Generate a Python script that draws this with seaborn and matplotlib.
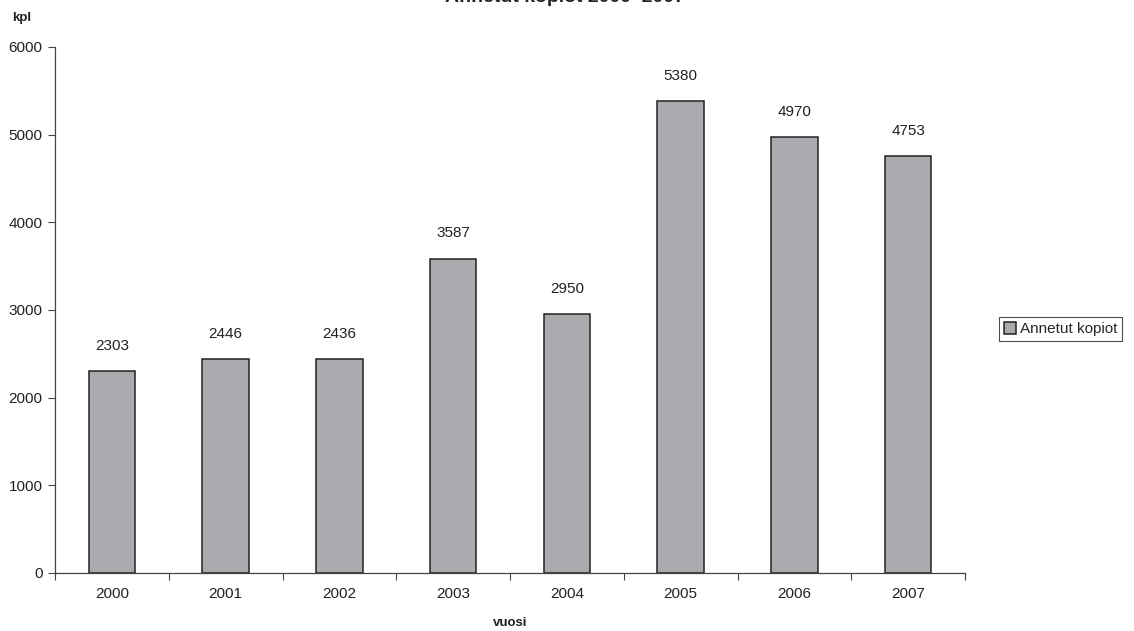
import pandas as pd
import seaborn as sns
import matplotlib.pyplot as plt

years = ["2000", "2001", "2002", "2003", "2004", "2005", "2006", "2007"]
copies = [2303, 2446, 2436, 3587, 2950, 5380, 4970, 4753]
series_name = "Annetut kopiot"

df = pd.DataFrame({"vuosi": years, "kpl": copies, "sarja": series_name})

sns.set_style("white")
plt.rcParams["font.family"] = ["Liberation Sans", "DejaVu Sans"]

fig = plt.figure(figsize=(11.34, 6.31), dpi=100)
ax = fig.add_axes([55 / 1134, 1 - 573 / 631, 910 / 1134, 526 / 631])

sns.barplot(data=df, x="vuosi", y="kpl", hue="sarja", ax=ax,
            palette=["#ababaf"], width=0.41, edgecolor="#222222",
            linewidth=1.1, saturation=1)

for c in ax.containers:
    ax.bar_label(c, labels=[str(v) for v in copies], padding=13,
                 fontsize=11, color="#222222")

ax.set_ylim(0, 6000)
ax.set_xlim(-0.5, len(years) - 0.5)
ax.set_yticks(range(0, 6001, 1000))
ax.tick_params(axis="y", length=5, width=0.8, color="#444444",
               labelsize=11, labelcolor="#222222", left=True, pad=4)
ax.tick_params(axis="x", length=0, labelsize=11, labelcolor="#222222", pad=10)
ax.set_xticks([i - 0.5 for i in range(len(years) + 1)], minor=True)
ax.tick_params(axis="x", which="minor", length=5, width=0.8,
               color="#444444", bottom=True)

for s in ["top", "right"]:
    ax.spines[s].set_visible(False)
for s in ["left", "bottom"]:
    ax.spines[s].set_color("#444444")
    ax.spines[s].set_linewidth(0.9)

ax.set_xlabel("")
ax.set_ylabel("")
fig.text(510 / 1134, 1 - 623 / 631, "vuosi", ha="center", va="center",
         fontsize=9.5, fontweight="bold", color="#222222")
fig.text(22 / 1134, 1 - 18 / 631, "kpl", ha="center", va="center",
         fontsize=9.5, fontweight="bold", color="#222222")
fig.text(565 / 1134, 1 + 2 / 631, "Annetut kopiot 2000–2007", ha="center",
         va="center", fontsize=14, fontweight="bold", color="#222222")

leg = ax.legend(loc="center left", bbox_to_anchor=(999 / 1134, 1 - 329 / 631),
                bbox_transform=fig.transFigure, frameon=True, fancybox=False,
                fontsize=11, handlelength=0.8, handleheight=0.8,
                handletextpad=0.3, borderpad=0.3, borderaxespad=0)
leg.get_frame().set_edgecolor("#222222")
leg.get_frame().set_linewidth(0.8)

fig.savefig("out.png", dpi=100)
